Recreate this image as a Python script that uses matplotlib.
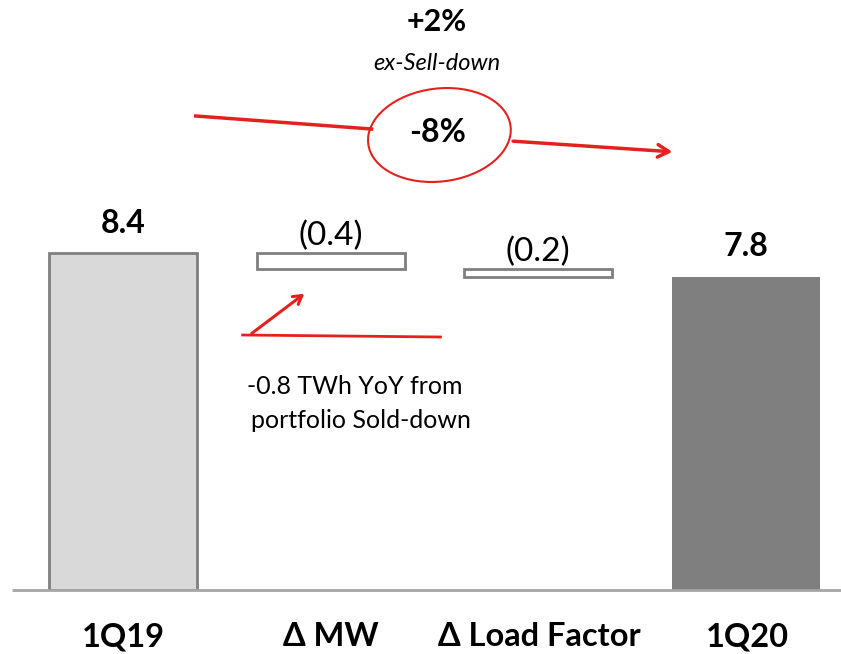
import matplotlib.pyplot as plt
from matplotlib.patches import Ellipse

plt.rcParams['font.family'] = ['Lato', 'DejaVu Sans']

# Waterfall data (TWh)
categories = ['1Q19', '\u0394 MW', '\u0394 Load Factor', '1Q20']
start_value = 8.4
deltas = [-0.4, -0.2]
end_value = 7.8
delta_labels = ['(0.4)', '(0.2)']
total_labels = ['8.4', '7.8']

fig = plt.figure(figsize=(8.41, 6.54), dpi=100)
ax = fig.add_axes([0, 64 / 654, 1, 590 / 654])
ax.set_xlim(-0.591, 3.457)
ax.set_ylim(0, 590 / 40.1)
ax.axis('off')

# helper: pixel position (from top-left) -> data coords
def px(x, y):
    return (x - 123) / 208, (590 - y) / 40.1

w = 0.712
edge = '#7f7f7f'

# totals
ax.bar(0, start_value, width=w, color='#d9d9d9', edgecolor=edge, linewidth=2)
ax.bar(3, end_value, width=w, color='#7f7f7f', edgecolor='#7f7f7f', linewidth=0)

# floating deltas
level = start_value
for i, d in enumerate(deltas):
    ax.bar(i + 1, -d, bottom=level + d, width=w, color='white',
           edgecolor=edge, linewidth=2)
    ax.text(i + 1, level + 0.19, delta_labels[i], ha='center',
            va='baseline', fontsize=24)
    level += d

ax.text(0, start_value + 0.5, total_labels[0], ha='center', va='baseline',
        fontsize=23, fontweight='bold')
ax.text(3, end_value + 0.52, total_labels[1], ha='center', va='baseline',
        fontsize=23, fontweight='bold')

# baseline
ax.plot([px(12, 0)[0], 3.457], [0, 0], color='#a6a6a6', linewidth=2,
        solid_capstyle='butt', clip_on=False)

# category labels
for i, c in enumerate(categories):
    fig.text((123 + 208 * i) / 841, 1 - 637 / 654, c, ha='center',
             va='center', fontsize=23.5, fontweight='bold')

# change annotation at top
red = '#e3221f'
ax.text(*px(437, 22), '+2%', ha='center', va='center', fontsize=22,
        fontweight='bold')
ax.text(*px(437, 63), 'ex-Sell-down', ha='center', va='center',
        fontsize=17, style='italic')
ax.add_patch(Ellipse(px(440, 135), 142 / 208, 94 / 40.1, angle=-2,
                     fill=False, edgecolor=red, linewidth=1.5))
ax.text(*px(438, 132), '-8%', ha='center', va='center', fontsize=23,
        fontweight='bold')
ax.plot(*zip(px(196, 116), px(372, 129)), color=red, linewidth=2.5)
ax.annotate('', xy=px(676, 152), xytext=px(511, 141),
            arrowprops=dict(arrowstyle='->,head_length=0.8,head_width=0.45',
                            color=red, linewidth=2.5))

# sell-down note
ax.plot(*zip(px(243, 335), px(441, 337)), color=red, linewidth=2)
ax.annotate('', xy=px(307, 292), xytext=px(250, 335),
            arrowprops=dict(arrowstyle='->,head_length=0.6,head_width=0.35',
                            color=red, linewidth=2.2))
ax.text(*px(247, 386), '-0.8 TWh YoY from', ha='left', va='center',
        fontsize=18)
ax.text(*px(251, 421), 'portfolio Sold-down', ha='left', va='center',
        fontsize=18)

fig.savefig('out.png', dpi=100)
